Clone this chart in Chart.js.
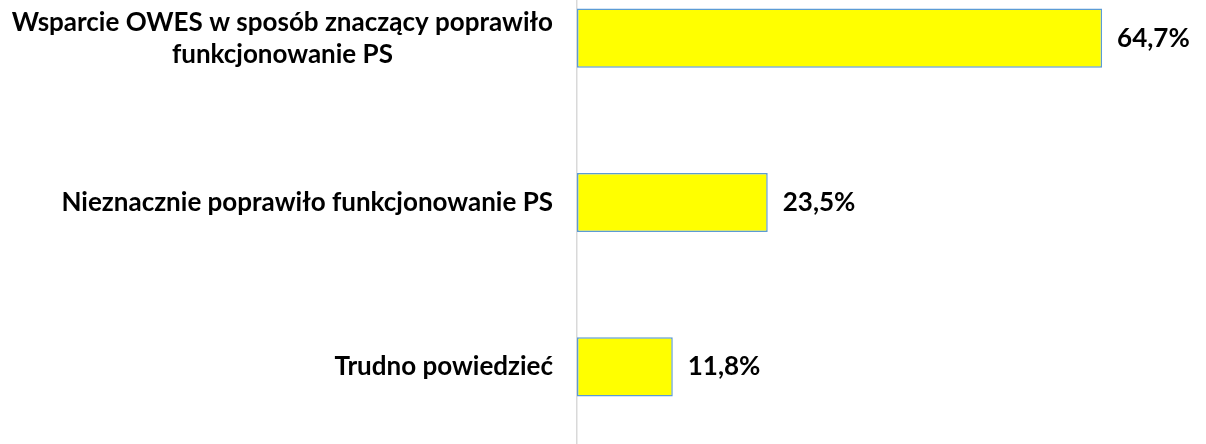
<!DOCTYPE html>
<html>
<head>
<meta charset="utf-8">
<script src="https://cdn.jsdelivr.net/npm/chart.js@4"></script>
<style>
  html, body { margin: 0; padding: 0; background: #fff; overflow: hidden; }
  #wrap { position: absolute; left: 0; top: -44px; width: 1206px; height: 493px; }
</style>
</head>
<body>
<div id="wrap"><canvas id="chart"></canvas></div>
<script>
// dane wykresu
const kategorie = [
  ["Wsparcie OWES w sposób znaczący poprawiło", "funkcjonowanie PS"],
  ["Nieznacznie poprawiło funkcjonowanie PS"],
  ["Trudno powiedzieć"]
];
const wartosci = [64.7, 23.5, 11.8];
const etykiety = ["64,7%", "23,5%", "11,8%"];

const fontTekst = "bold 26px Lato";

// etykiety kategorii po lewej
const etykietyKategorii = {
  id: "etykietyKategorii",
  afterDraw(chart) {
    const ctx = chart.ctx;
    const y = chart.scales.y;
    const prawo = chart.chartArea.left - 24;
    ctx.save();
    ctx.font = fontTekst;
    ctx.fillStyle = "#000";
    ctx.textBaseline = "middle";
    ctx.textAlign = "center";
    kategorie.forEach((linie, i) => {
      const szer = Math.max(...linie.map(l => ctx.measureText(l).width));
      const srodekX = prawo - szer / 2;
      const srodekY = y.getPixelForValue(i);
      const lh = 32;
      linie.forEach((l, j) => {
        ctx.fillText(l, srodekX, srodekY + (j - (linie.length - 1) / 2) * lh);
      });
    });
    ctx.restore();
  }
};

// wartości przy słupkach
const etykietyWartosci = {
  id: "etykietyWartosci",
  afterDatasetsDraw(chart) {
    const ctx = chart.ctx;
    const meta = chart.getDatasetMeta(0);
    ctx.save();
    ctx.font = fontTekst;
    ctx.fillStyle = "#000";
    ctx.textBaseline = "middle";
    ctx.textAlign = "left";
    meta.data.forEach((bar, i) => {
      ctx.fillText(etykiety[i], bar.x + 15, bar.y);
    });
    ctx.restore();
  }
};

new Chart(document.getElementById("chart"), {
  type: "bar",
  data: {
    labels: kategorie,
    datasets: [{
      data: wartosci,
      backgroundColor: "#ffff00",
      borderColor: "#5b9bd5",
      borderWidth: 1.5,
      borderSkipped: false,
      barPercentage: 0.36,
      categoryPercentage: 1
    }]
  },
  options: {
    indexAxis: "y",
    responsive: true,
    maintainAspectRatio: false,
    animation: false,
    layout: { padding: 0 },
    plugins: {
      legend: { display: false },
      tooltip: { enabled: false }
    },
    scales: {
      x: {
        display: false,
        min: 0,
        max: 77.5
      },
      y: {
        ticks: { display: false },
        grid: { display: false },
        border: { display: true, color: "#d9d9d9", width: 1.5 },
        afterFit(scale) { scale.width = 577; }
      }
    }
  },
  plugins: [etykietyKategorii, etykietyWartosci]
});
</script>
</body>
</html>
